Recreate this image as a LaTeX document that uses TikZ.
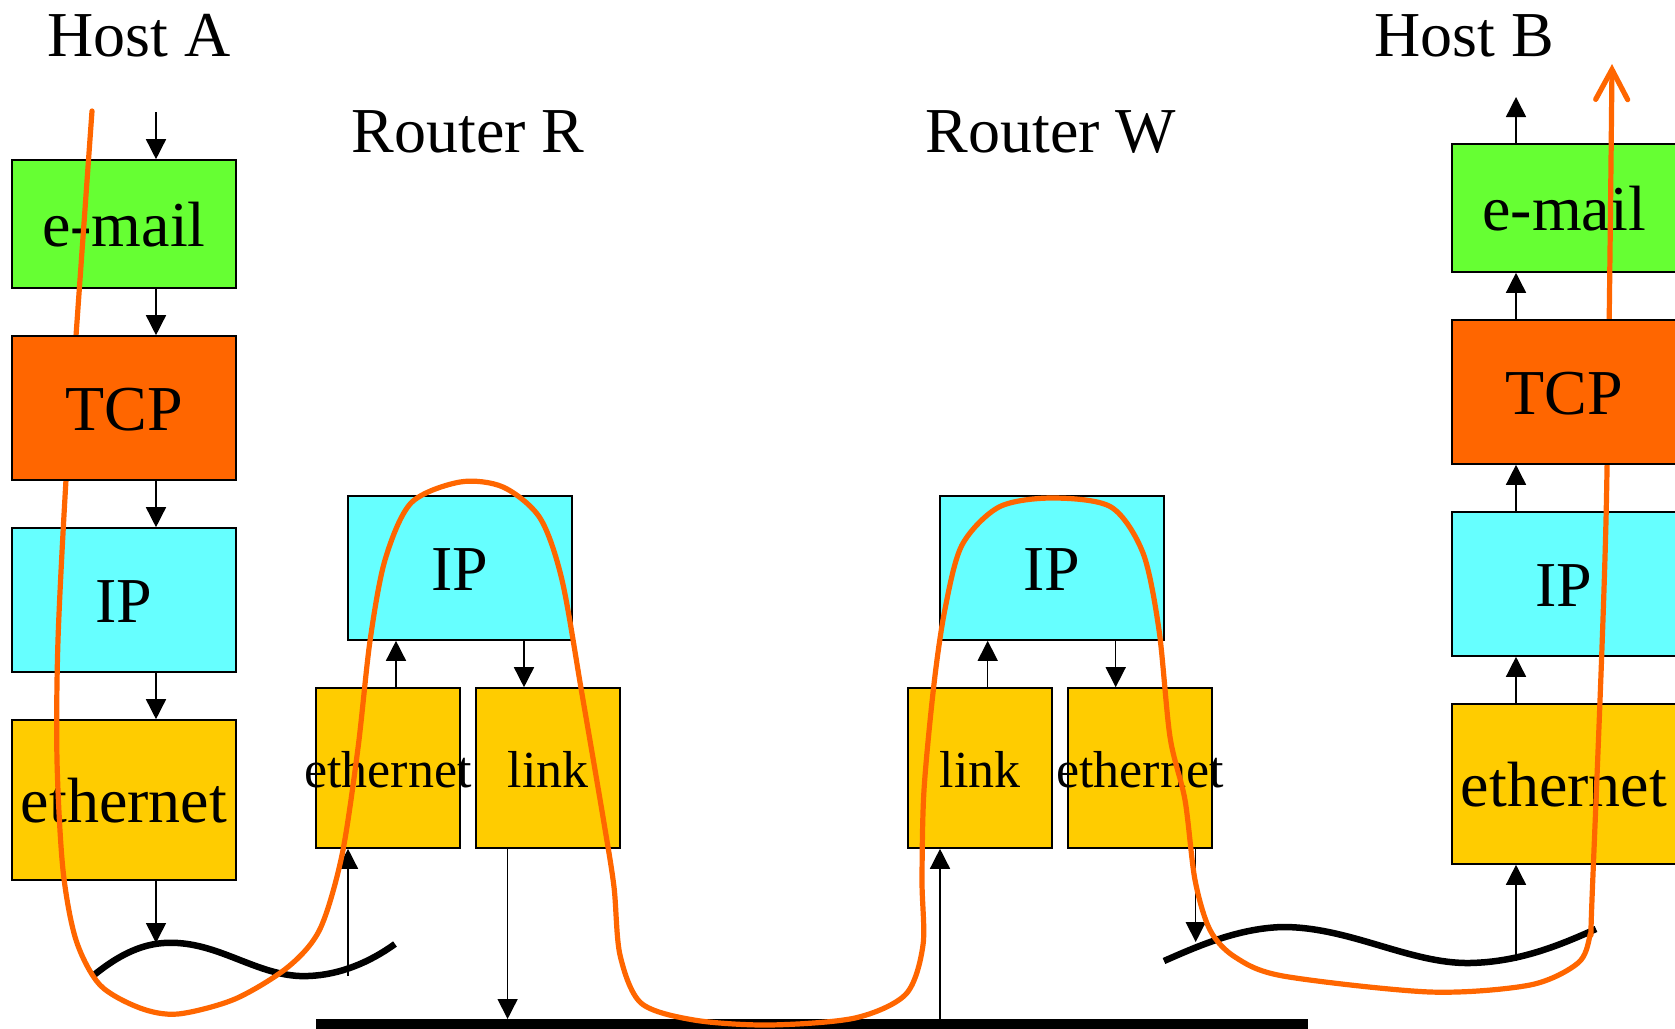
\documentclass[tikz,border=0pt]{standalone}
\usepackage{fontspec}
\setmainfont{Liberation Serif}
\usetikzlibrary{arrows.meta}
\definecolor{cGreen}{HTML}{66FF33}
\definecolor{cOrange}{HTML}{FF6600}
\definecolor{cCyan}{HTML}{66FFFF}
\definecolor{cYellow}{HTML}{FFCC00}
\begin{document}
\begin{tikzpicture}[x=1pt,y=-1pt,
  box/.style={draw=black, line width=1.6pt, inner sep=0pt},
  hbox/.style={box, minimum width=224pt},
  sbox/.style={box, minimum width=144pt, minimum height=160pt},
  txt/.style={inner sep=0pt, font=\fontsize{64}{70}\selectfont, text height=44pt, text depth=0pt},
  stxt/.style={inner sep=0pt, font=\fontsize{52}{60}\selectfont, text height=38pt, text depth=0pt},
  ttl/.style={inner sep=0pt, anchor=base, font=\fontsize{64}{70}\selectfont},
  arr/.style={line width=1.5pt, -{Triangle[length=20pt,width=20pt]}},
  wire/.style={line width=6.5pt},
  flow/.style={draw=cOrange, line width=5.2pt, line cap=round, line join=round}
]
\useasboundingbox (0,0) rectangle (1675,1028);
\fill[white] (0,0) rectangle (1675,1028);

% titles
\node[ttl] (tA) at (139,56) {Host A};
\node[ttl] (tB) at (1464,56) {Host B};
\node[ttl] (tR) at (468,152.7) {Router R};
\node[ttl] (tW) at (1051,152.7) {Router W};

% Host A
\node[hbox, fill=cGreen, minimum height=128pt] (emailA) at (124,224) {};
\node[hbox, fill=cCyan, minimum height=144pt] (ipA) at (124,600) {};
\node[hbox, fill=cYellow, minimum height=160pt] (ethA) at (124,800) {};
\node[txt] at (emailA) {e-mail};
\node[txt] at (ipA) {IP};
\node[txt] at (ethA) {ethernet};

% Router R
\node[hbox, fill=cCyan, minimum height=144pt] (ipR) at (460,568) {};
\node[sbox, fill=cYellow] (ethR) at (388,768) {};
\node[sbox, fill=cYellow] (linkR) at (548,768) {};
\node[txt] at (ipR) {IP};
\node[stxt] at (ethR) {ethernet};
\node[stxt] at (linkR) {link};

% Router W
\node[hbox, fill=cCyan, minimum height=144pt] (ipW) at (1052,568) {};
\node[sbox, fill=cYellow] (linkW) at (980,768) {};
\node[sbox, fill=cYellow] (ethW) at (1140,768) {};
\node[txt] at (ipW) {IP};
\node[stxt] at (linkW) {link};
\node[stxt] at (ethW) {ethernet};

% Host B
\node[hbox, fill=cGreen, minimum height=128pt] (emailB) at (1564,208) {};
\node[hbox, fill=cCyan, minimum height=144pt] (ipB) at (1564,584) {};
\node[hbox, fill=cYellow, minimum height=160pt] (ethB) at (1564,784) {};
\node[txt] at (emailB) {e-mail};
\node[txt] at (ipB) {IP};
\node[txt] at (ethB) {ethernet};

% free ends
\coordinate (inA) at (156,112);
\coordinate (wA) at (156,943);
\coordinate (wR) at (348,976);
\coordinate (bbR) at (507.6,1019);
\coordinate (bbW) at (940,1019);
\coordinate (wW) at (1195.7,942);
\coordinate (wB) at (1516,961);
\coordinate (outB) at (1516,97);

% wires and backbone
\draw[wire] (94,975) .. controls (125,950) and (150,941) .. (178,943)
  .. controls (225,946) and (262,978) .. (308,976)
  .. controls (340,975) and (370,962) .. (395,944);
\draw[wire] (1164,961) .. controls (1200,945) and (1240,928) .. (1283,927)
  .. controls (1350,927) and (1410,964) .. (1470,963)
  .. controls (1520,962) and (1560,945) .. (1596,929);
\draw[line width=10pt] (316,1023.5) -- (1308,1023.5);

% arrows
\draw[arr] (inA) -- (inA |- emailA.north);
\draw[arr] (ethA.south -| inA) -- (wA);
\draw[arr] (wR) -- (ethR.south -| wR);
\draw[arr] (ethR.north -| 396,0) -- (ipR.south -| 396,0);
\draw[arr] (ipR.south -| 524,0) -- (linkR.north -| 524,0);
\draw[arr] (linkR.south -| bbR) -- (bbR);
\draw[arr] (bbW) -- (linkW.south -| bbW);
\draw[arr] (linkW.north -| 987.7,0) -- (ipW.south -| 987.7,0);
\draw[arr] (ipW.south -| 1115.7,0) -- (ethW.north -| 1115.7,0);
\draw[arr] (ethW.south -| wW) -- (wW);
\draw[arr] (wB) -- (ethB.south -| wB);
\draw[arr] (ethB.north -| wB) -- (ipB.south -| wB);
\draw[arr] (emailB.north -| wB) -- (outB);

% orange flow
\draw[flow, -{Straight Barb[length=30pt,width=32pt,line cap=round]}] plot[smooth, tension=0.5] coordinates {
 (92,111) (76,336) (66,480) (58,640) (57,760) (63,870) (76,940) (100,985) (140,1008) (178,1014)
 (235,999) (288,967) (320,929) (342,855) (358,748) (370,641) (385,560) (411,503) (460,482)
 (503,487) (540,518) (562,580) (582,694) (604,823) (614,887) (620,955) (641,1003) (694,1020)
 (769,1025) (855,1018) (906,994) (923,945) (922,880) (924,790) (934,684) (945,609) (962,545)
 (999,507) (1052,498) (1111,507) (1143,553) (1159,630) (1170,737) (1185,800) (1195,880)
 (1210,930) (1235,957) (1283,976) (1430,992) (1530,985) (1578,963) (1590,935) (1592,899)
 (1606,520) (1612,64)};

% TCP boxes on top of the flow
\node[hbox, fill=cOrange, minimum height=144pt] (tcpA) at (124,408) {};
\node[txt] at (tcpA) {TCP};
\node[hbox, fill=cOrange, minimum height=144pt] (tcpB) at (1564,392) {};
\node[txt] at (tcpB) {TCP};

\draw[arr] (emailA.south -| inA) -- (tcpA.north -| inA);
\draw[arr] (tcpA.south -| inA) -- (ipA.north -| inA);
\draw[arr] (ipA.south -| inA) -- (ethA.north -| inA);
\draw[arr] (ipB.north -| wB) -- (tcpB.south -| wB);
\draw[arr] (tcpB.north -| wB) -- (emailB.south -| wB);
\end{tikzpicture}
\end{document}
